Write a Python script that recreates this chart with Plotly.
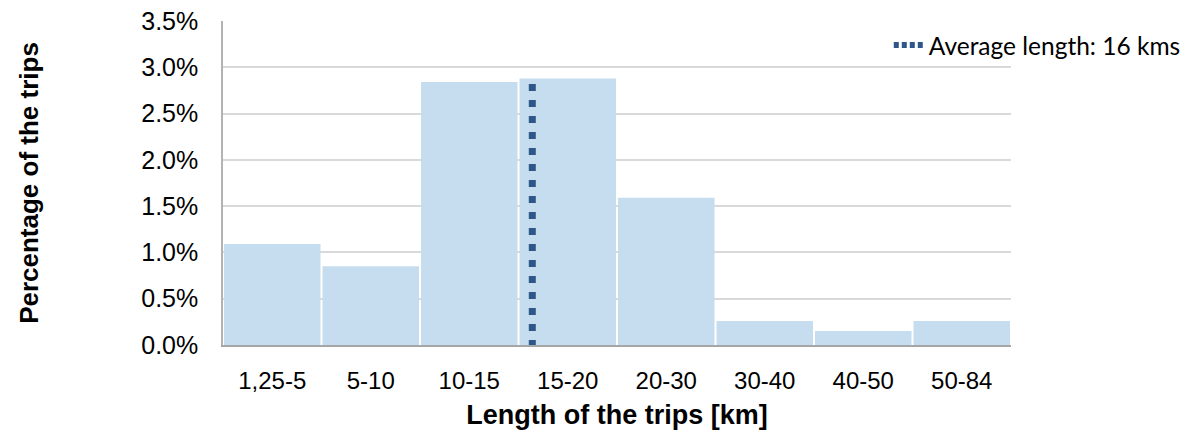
import plotly.graph_objects as go

categories = ["1,25-5", "5-10", "10-15", "15-20", "20-30", "30-40", "40-50", "50-84"]
share_pct = [1.09, 0.85, 2.84, 2.88, 1.59, 0.26, 0.15, 0.26]
avg_label = "Average length: 16 kms"
avg_x_pos = 2.64          # position of the 16 km average on the category axis
avg_line_y = [2.82, 0.0]  # vertical extent of the dotted average line (%)
y_ticks = [0.0, 0.5, 1.0, 1.5, 2.0, 2.5, 3.0, 3.5]

x_idx = list(range(len(categories)))
line_color = "#2f5689"

fig = go.Figure()
fig.add_trace(go.Bar(
    x=x_idx, y=share_pct,
    marker=dict(color="#c6dcef", line=dict(width=0)),
    showlegend=False, hoverinfo="skip",
))
fig.add_trace(go.Scatter(
    x=[avg_x_pos, avg_x_pos], y=avg_line_y,
    mode="lines", showlegend=False, hoverinfo="skip",
    line=dict(color=line_color, width=7, dash="7px,9px"),
))
# legend entry (finer dotted pattern, like the reference legend key)
fig.add_trace(go.Scatter(
    x=[None], y=[None], mode="lines", name=avg_label,
    line=dict(color=line_color, width=6, dash="5px,3px"),
))

fig.update_layout(
    width=1193, height=434,
    margin=dict(l=223, r=182, t=21, b=89, autoexpand=False),
    paper_bgcolor="white", plot_bgcolor="white",
    bargap=0.02,
    font=dict(family="Liberation Sans, Arial, sans-serif", color="black"),
    legend=dict(
        xref="container", yref="container",
        x=0.745, y=0.896, xanchor="left", yanchor="middle",
        bgcolor="rgba(0,0,0,0)",
        font=dict(family="Lato, Calibri, sans-serif", size=24.5, color="black"),
    ),
)
fig.update_xaxes(
    range=[-0.5, len(categories) - 0.5],
    tickvals=x_idx, ticktext=categories,
    tickfont=dict(size=24),
    showgrid=False, zeroline=False,
    showline=True, linecolor="#a6a6a6", linewidth=2,
    ticks="", ticklabelstandoff=13, automargin=False,
    title=dict(text="<b>Length of the trips [km]</b>", font=dict(size=27), standoff=12),
)
fig.update_yaxes(
    range=[0, 3.5],
    tickvals=y_ticks, ticktext=[f"{v:.1f}%" for v in y_ticks],
    tickfont=dict(size=25),
    showgrid=True, gridcolor="#d9d9d9", gridwidth=1.5,
    zeroline=False,
    showline=True, linecolor="#b3b3b3", linewidth=1.5,
    ticks="", ticklabelstandoff=18, automargin=False,
    title=dict(text="<b>Percentage of the trips</b>", font=dict(size=26), standoff=95),
)

fig.write_html("out.html")
